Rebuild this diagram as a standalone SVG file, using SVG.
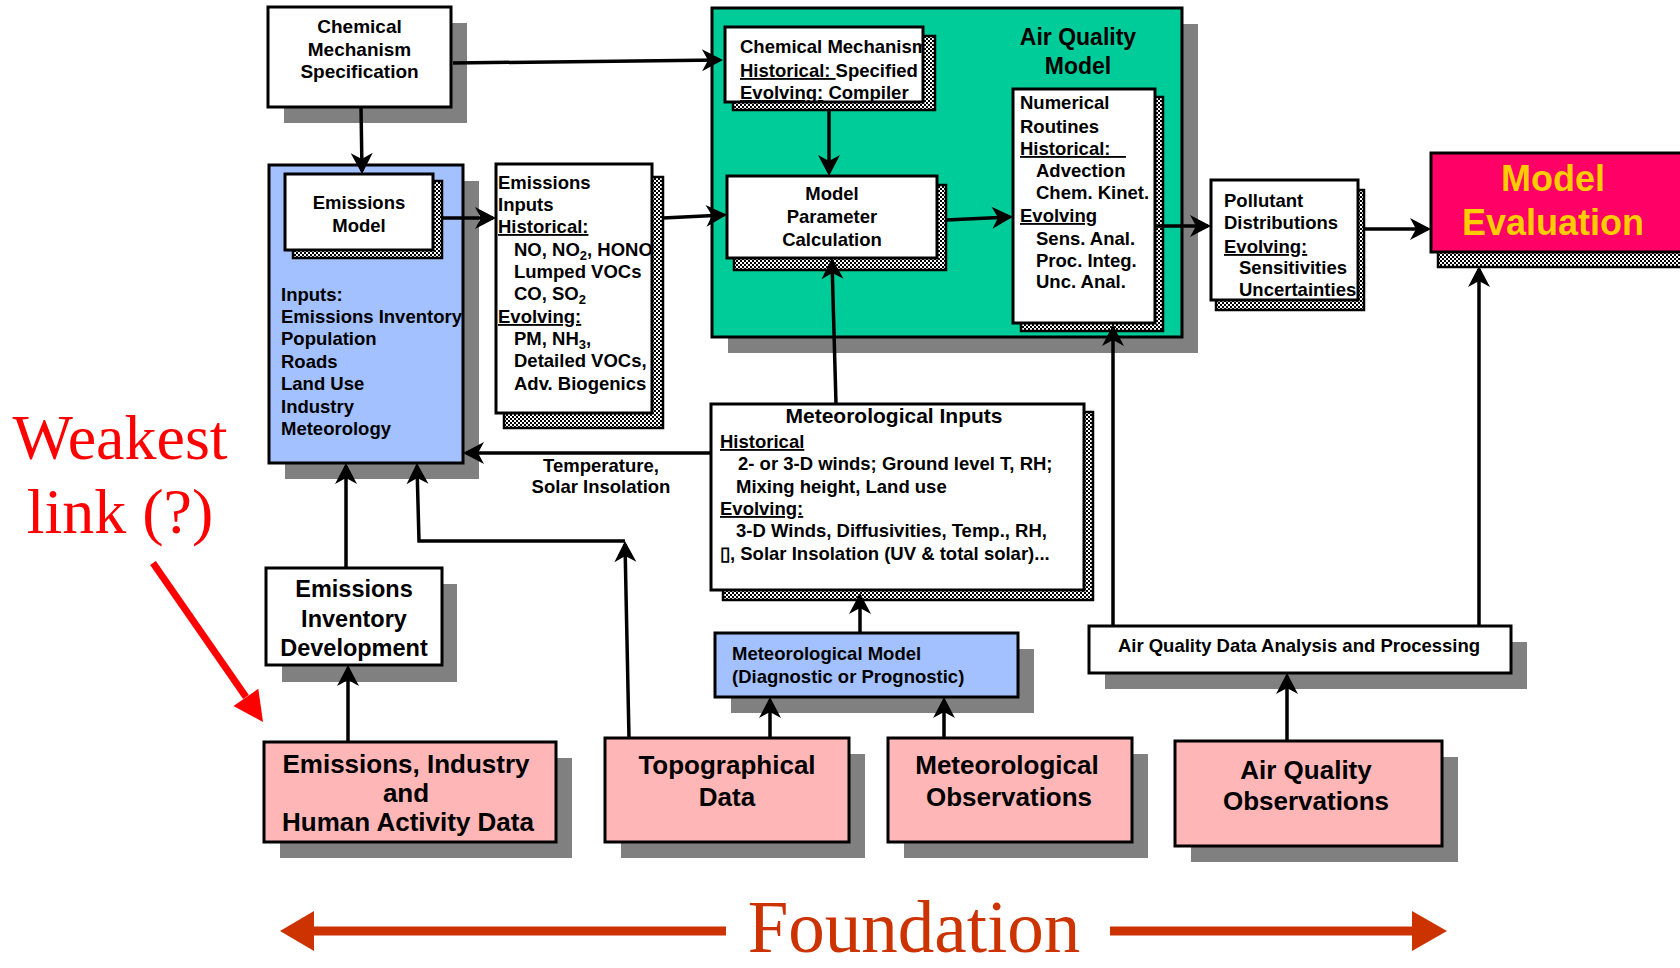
<svg xmlns="http://www.w3.org/2000/svg" width="1680" height="968" viewBox="0 0 1680 968">
<style>
.sh{fill:#808080}
.bx{stroke:#000;stroke-width:3}
.w{fill:#fff}
.bl{fill:#A3C1FF}
.pk{fill:#FFB6B6}
.gr{fill:#00CC99}
.mg{fill:#FF0066}
.chk{fill:url(#chk);stroke:#000;stroke-width:2.5}
text{font-family:"Liberation Sans",Arial,Helvetica,sans-serif;font-weight:bold;font-size:18.5px;fill:#000}
.c{text-anchor:middle}
.u{text-decoration:underline}
.big{font-size:26px}
.serif{font-family:"Liberation Serif","Times New Roman",serif;font-weight:normal}
</style>
<defs>
<pattern id="chk" width="4" height="4" patternUnits="userSpaceOnUse">
<rect width="4" height="4" fill="#fff"/>
<rect width="2" height="2" fill="#000"/>
<rect x="2" y="2" width="2" height="2" fill="#000"/>
</pattern>
<marker id="ah" markerUnits="userSpaceOnUse" viewBox="-20 -12 26 24" refX="0" refY="0" markerWidth="26" markerHeight="24" orient="auto">
<path d="M3,0 L-18,-11 L-12,0 L-18,11 Z" fill="#000"/>
</marker>
<clipPath id="cpEI"><rect x="496" y="164" width="156" height="249"/></clipPath>
<clipPath id="cpCM"><rect x="725" y="27" width="198" height="75"/></clipPath>
<clipPath id="cpPD"><rect x="1211" y="180" width="147" height="120"/></clipPath>
</defs>
<rect width="1680" height="968" fill="#fff"/>

<g id="chem-spec">
<rect class="sh" x="284" y="23" width="183" height="100"/>
<rect class="bx w" x="268" y="7" width="183" height="100"/>
<text class="c" x="359.5" y="33" style="font-size:19px">Chemical</text>
<text class="c" x="359.5" y="56" style="font-size:19px">Mechanism</text>
<text class="c" x="359.5" y="78" style="font-size:19px">Specification</text>
</g>

<g id="emissions-block">
<rect class="sh" x="285" y="181" width="194" height="298"/>
<rect class="bx bl" x="269" y="165" width="194" height="298"/>
<text x="281" y="301">Inputs:</text>
<text x="281" y="323">Emissions Inventory</text>
<text x="281" y="345">Population</text>
<text x="281" y="368">Roads</text>
<text x="281" y="390">Land Use</text>
<text x="281" y="413">Industry</text>
<text x="281" y="435">Meteorology</text>
</g>

<g id="emissions-model">
<rect class="chk" x="293" y="181" width="149" height="77"/>
<rect class="bx w" x="285" y="174" width="148" height="76"/>
<text class="c" x="359" y="209">Emissions</text>
<text class="c" x="359" y="232">Model</text>
</g>

<g id="emissions-inputs">
<rect class="chk" x="504" y="177" width="159" height="251"/>
<rect class="bx w" x="496" y="164" width="156" height="249"/>
<g clip-path="url(#cpEI)">
<text x="498" y="189">Emissions</text>
<text x="498" y="211">Inputs</text>
<text x="498" y="233" class="u">Historical:</text>
<text x="514" y="256">NO, NO<tspan font-size="13" dy="4">2</tspan><tspan dy="-4">, HONO</tspan></text>
<text x="514" y="278">Lumped VOCs</text>
<text x="514" y="300">CO, SO<tspan font-size="13" dy="4">2</tspan></text>
<text x="498" y="323" class="u">Evolving:</text>
<text x="514" y="345">PM, NH<tspan font-size="13" dy="4">3</tspan><tspan dy="-4">,</tspan></text>
<text x="514" y="367">Detailed VOCs,</text>
<text x="514" y="390">Adv. Biogenics</text>
</g>
</g>

<g id="air-quality-model">
<rect class="sh" x="728" y="24" width="470" height="329"/>
<rect class="bx gr" x="712" y="8" width="470" height="329"/>
<text class="c" x="1078" y="45" style="font-size:23px">Air Quality</text>
<text class="c" x="1078" y="74" style="font-size:23px">Model</text>
</g>

<g id="chemical-mechanism">
<rect class="chk" x="733" y="36" width="202" height="74"/>
<rect class="bx w" x="725" y="27" width="198" height="75"/>
<g clip-path="url(#cpCM)">
<text x="740" y="53">Chemical Mechanism</text>
<text x="740" y="77"><tspan class="u">Historical:&#160;</tspan>Specified</text>
<text x="740" y="99"><tspan class="u">Evolving:</tspan> Compiler</text>
</g>
</g>

<g id="model-parameter">
<rect class="chk" x="734" y="185" width="212" height="85"/>
<rect class="bx w" x="727" y="176" width="210" height="82"/>
<text class="c" x="832" y="200">Model</text>
<text class="c" x="832" y="223">Parameter</text>
<text class="c" x="832" y="246">Calculation</text>
</g>

<g id="numerical-routines">
<rect class="chk" x="1021" y="97" width="142" height="234"/>
<rect class="bx w" x="1013" y="89" width="142" height="234"/>
<text x="1020" y="109">Numerical</text>
<text x="1020" y="133">Routines</text>
<text x="1020" y="155" class="u">Historical:&#160;&#160;&#160;</text>
<text x="1036" y="177">Advection</text>
<text x="1036" y="199">Chem. Kinet.</text>
<text x="1020" y="222" class="u">Evolving</text>
<text x="1036" y="245">Sens. Anal.</text>
<text x="1036" y="267">Proc. Integ.</text>
<text x="1036" y="288">Unc. Anal.</text>
</g>

<g id="pollutant-distributions">
<rect class="chk" x="1216" y="190" width="148" height="120"/>
<rect class="bx w" x="1211" y="180" width="147" height="120"/>
<g clip-path="url(#cpPD)">
<text x="1224" y="207">Pollutant</text>
<text x="1224" y="229">Distributions</text>
<text x="1224" y="253" class="u">Evolving:</text>
<text x="1239" y="274">Sensitivities</text>
<text x="1239" y="296">Uncertainties</text>
</g>
</g>

<g id="model-evaluation">
<rect class="chk" x="1438" y="160" width="260" height="107"/>
<rect class="bx mg" x="1431" y="153" width="260" height="99"/>
<text class="c" x="1553" y="191" style="font-size:36px;fill:#FFCC00">Model</text>
<text class="c" x="1553" y="235" style="font-size:36px;fill:#FFCC00">Evaluation</text>
</g>

<g id="meteorological-inputs">
<rect class="chk" x="723" y="412" width="370" height="188"/>
<rect class="bx w" x="711" y="404" width="373" height="186"/>
<text class="c" x="894" y="423" style="font-size:21px">Meteorological Inputs</text>
<text x="720" y="448" class="u">Historical</text>
<text x="738" y="470">2- or 3-D winds; Ground level T, RH;</text>
<text x="736" y="493">Mixing height, Land use</text>
<text x="720" y="515" class="u">Evolving:</text>
<text x="736" y="537">3-D Winds, Diffusivities, Temp., RH,</text>
<text x="720" y="560">▯, Solar Insolation (UV &amp; total solar)...</text>
</g>

<g id="temperature-label">
<text class="c" x="601" y="472">Temperature,</text>
<text class="c" x="601" y="493">Solar Insolation</text>
</g>

<g id="meteorological-model">
<rect class="sh" x="731" y="649" width="303" height="64"/>
<rect class="bx bl" x="715" y="633" width="303" height="64"/>
<text x="732" y="660">Meteorological Model</text>
<text x="732" y="683">(Diagnostic or Prognostic)</text>
</g>

<g id="aq-data-analysis">
<rect class="sh" x="1105" y="642" width="422" height="47"/>
<rect class="bx w" x="1089" y="626" width="422" height="47"/>
<text class="c" x="1299" y="652">Air Quality Data Analysis and Processing</text>
</g>

<g id="emissions-inventory-development">
<rect class="sh" x="282" y="584" width="175" height="98"/>
<rect class="bx w" x="266" y="568" width="176" height="97"/>
<text class="c" x="354" y="597" style="font-size:23.5px">Emissions</text>
<text class="c" x="354" y="627" style="font-size:23.5px">Inventory</text>
<text class="c" x="354" y="656" style="font-size:23.5px">Development</text>
</g>

<g id="emissions-industry-data">
<rect class="sh" x="280" y="758" width="292" height="100"/>
<rect class="bx pk" x="264" y="742" width="292" height="100"/>
<text class="c big" x="406" y="773">Emissions, Industry</text>
<text class="c big" x="406" y="802">and</text>
<text class="c big" x="408" y="831">Human Activity Data</text>
</g>

<g id="topographical-data">
<rect class="sh" x="621" y="754" width="244" height="104"/>
<rect class="bx pk" x="605" y="738" width="244" height="104"/>
<text class="c big" x="727" y="774">Topographical</text>
<text class="c big" x="727" y="806">Data</text>
</g>

<g id="meteorological-observations">
<rect class="sh" x="904" y="754" width="244" height="104"/>
<rect class="bx pk" x="888" y="738" width="244" height="104"/>
<text class="c big" x="1007" y="774">Meteorological</text>
<text class="c big" x="1009" y="806">Observations</text>
</g>

<g id="air-quality-observations">
<rect class="sh" x="1191" y="757" width="267" height="105"/>
<rect class="bx pk" x="1175" y="741" width="267" height="105"/>
<text class="c big" x="1306" y="779">Air Quality</text>
<text class="c big" x="1306" y="810">Observations</text>
</g>

<g id="connectors" fill="none" stroke="#000" stroke-width="3.5" marker-end="url(#ah)">
<path d="M453,63 L720,60"/>
<path d="M361,107 L362,171"/>
<path d="M442,218 L493,218"/>
<path d="M663,218 L724,215"/>
<path d="M829,110 L829,173"/>
<path d="M946,220 L1010,217"/>
<path d="M1155,226 L1208,226"/>
<path d="M1364,229 L1428,229"/>
<path d="M836,404 L832,261"/>
<path d="M711,453 L466,453"/>
<path d="M860,633 L860,596"/>
<path d="M770,738 L770,700"/>
<path d="M944,738 L944,700"/>
<path d="M348,742 L348,668"/>
<path d="M346,568 L346,466"/>
<path d="M629,738 L625,544"/>
<path d="M625,541 L419,541 L417,466"/>
<path d="M1113,626 L1113,328"/>
<path d="M1479,626 L1479,269"/>
<path d="M1287,741 L1287,676"/>
</g>

<g id="weakest-link">
<text class="c serif" x="120" y="459" style="font-size:64px;fill:#FF0000">Weakest</text>
<text class="c serif" x="120" y="533" style="font-size:64px;fill:#FF0000">link (?)</text>
<line x1="153" y1="563" x2="246" y2="697" stroke="#FF0000" stroke-width="7"/>
<polygon points="263,722 233.5,706 258.3,688.8" fill="#FF0000"/>
</g>

<g id="foundation">
<line x1="312" y1="931" x2="726" y2="931" stroke="#CC3300" stroke-width="9"/>
<polygon points="280,931 314,911 314,951" fill="#CC3300"/>
<line x1="1110" y1="931" x2="1414" y2="931" stroke="#CC3300" stroke-width="9"/>
<polygon points="1447,931 1412,911 1412,951" fill="#CC3300"/>
<text class="c serif" x="914" y="952" style="font-size:73px;fill:#CC3300">Foundation</text>
</g>
</svg>
